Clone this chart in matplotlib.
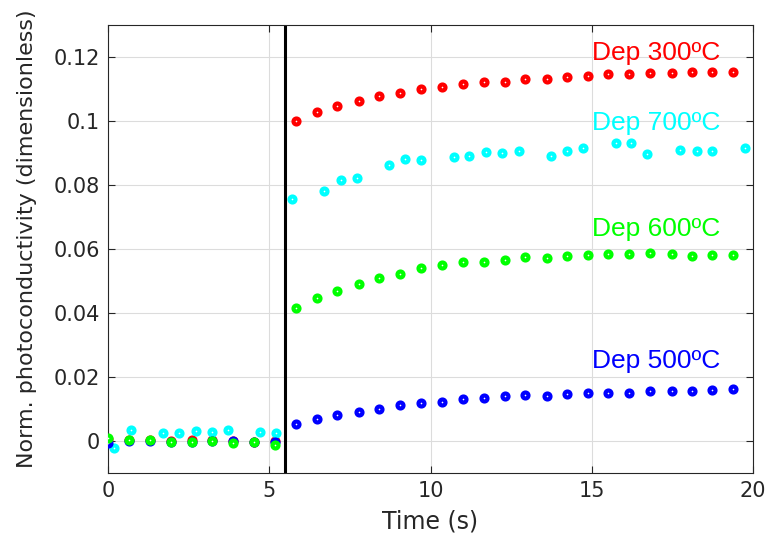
import matplotlib
matplotlib.use("Agg")
import matplotlib.pyplot as plt

# time axis (s) for the 300/500/600 ºC series
t_main = [0.00, 0.65, 1.29, 1.94, 2.59, 3.24, 3.88, 4.53, 5.18,
          5.82, 6.48, 7.11, 7.77, 8.41, 9.06, 9.71, 10.36, 11.01, 11.66, 12.30,
          12.93, 13.60, 14.24, 14.89, 15.51, 16.15, 16.81, 17.48, 18.12, 18.74, 19.39]

dep300 = [0.0005, 0.0003, 0.0002, 0.0000, 0.0002, 0.0003, 0.0000, -0.0003, 0.0000,
          0.1001, 0.1028, 0.1048, 0.1063, 0.1077, 0.1088, 0.1099, 0.1106, 0.1115, 0.1121, 0.1123,
          0.1132, 0.1131, 0.1138, 0.1142, 0.1146, 0.1147, 0.1151, 0.1151, 0.1154, 0.1154, 0.1154]

dep600 = [0.0008, 0.0003, 0.0002, -0.0002, -0.0003, 0.0000, -0.0005, -0.0002, -0.0013,
          0.0417, 0.0448, 0.0470, 0.0492, 0.0509, 0.0522, 0.0540, 0.0551, 0.0559, 0.0558, 0.0566,
          0.0575, 0.0571, 0.0579, 0.0581, 0.0583, 0.0585, 0.0587, 0.0585, 0.0579, 0.0581, 0.0581]

dep500 = [-0.0005, 0.0000, 0.0000, -0.0004, -0.0004, 0.0000, 0.0000, -0.0002, -0.0003,
          0.0052, 0.0068, 0.0081, 0.0090, 0.0101, 0.0112, 0.0118, 0.0122, 0.0131, 0.0133, 0.0142,
          0.0143, 0.0142, 0.0147, 0.0149, 0.0151, 0.0151, 0.0157, 0.0157, 0.0157, 0.0159, 0.0162]

# 700 ºC series has its own sampling
t_700 = [0.19, 0.70, 1.71, 2.20, 2.72, 3.22, 3.73, 4.71, 5.21,
         5.69, 6.70, 7.21, 7.71, 8.71, 9.22, 9.72, 10.73, 11.20, 11.73, 12.21, 12.73,
         13.74, 14.23, 14.74, 15.74, 16.23, 16.72, 17.74, 18.25, 18.74, 19.75]
dep700 = [-0.0023, 0.0034, 0.0024, 0.0024, 0.0031, 0.0029, 0.0034, 0.0029, 0.0024,
          0.0756, 0.0782, 0.0817, 0.0822, 0.0863, 0.0880, 0.0877, 0.0888, 0.0891, 0.0904, 0.0901, 0.0907,
          0.0892, 0.0907, 0.0915, 0.0930, 0.0930, 0.0896, 0.0909, 0.0907, 0.0907, 0.0915]

labels = ["Dep 300ºC", "Dep 700ºC", "Dep 600ºC", "Dep 500ºC"]
label_y = [0.1213, 0.0994, 0.0663, 0.0250]
label_x = 15.0
step_time = 5.5

xticks = [0, 5, 10, 15, 20]
yticks = [0, 0.02, 0.04, 0.06, 0.08, 0.1, 0.12]
ytick_labels = ["0", "0.02", "0.04", "0.06", "0.08", "0.1", "0.12"]

W, H = 771, 543
fig = plt.figure(figsize=(W / 100, H / 100), dpi=100)
ax = fig.add_axes([108 / W, 1 - 473 / H, (753 - 108) / W, (473 - 25) / H])

axc = "#262626"
ax.set_xlim(0, 20)
ax.set_ylim(-0.01, 0.13)
ax.set_xticks(xticks)
ax.set_yticks(yticks)
ax.set_yticklabels(ytick_labels)
ax.grid(True, color="#dcdcdc", linewidth=0.8)
ax.set_axisbelow(True)
ax.tick_params(direction="in", length=5, width=0.8, top=True, right=True,
               colors=axc, labelsize=15, pad=6)
for s in ax.spines.values():
    s.set_color(axc)
    s.set_linewidth(0.8)

ax.axvline(step_time, color="black", linewidth=2.2, zorder=1.5)

mk = dict(linestyle="none", marker="o", markersize=4.3, markeredgewidth=3.0,
          markerfacecolor="white", zorder=3)
ax.plot(t_main, dep300, markeredgecolor="#ff0000", **mk)
ax.plot(t_700, dep700, markeredgecolor="#00ffff", **mk)
ax.plot(t_main, dep500, markeredgecolor="#0000ff", **mk)
ax.plot(t_main, dep600, markeredgecolor="#00ff00", **mk)

colors = ["#ff0000", "#00ffff", "#00ff00", "#0000ff"]
for lab, yy, c in zip(labels, label_y, colors):
    ax.text(label_x, yy, lab, color=c, fontsize=19, family="Liberation Sans",
            ha="left", va="center", zorder=4)

ax.set_xlabel("Time (s)", fontsize=17, color=axc, labelpad=6)
ax.set_ylabel("Norm. photoconductivity (dimensionless)", fontsize=16, color=axc)
ax.yaxis.set_label_coords(-0.11, 0.522)

fig.savefig("out.png", dpi=100)
